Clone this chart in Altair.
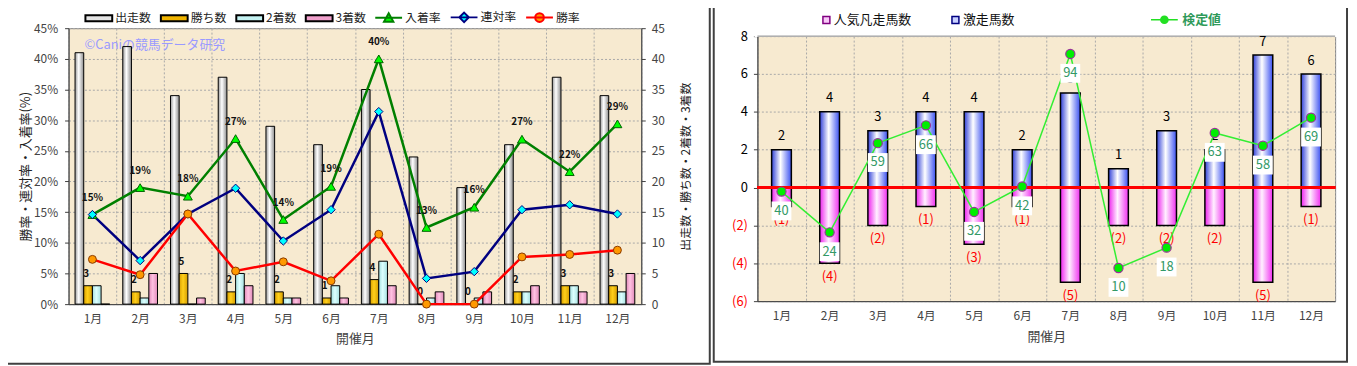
import altair as alt
import pandas as pd

FONT = "Noto Sans CJK JP"

months = ["1月", "2月", "3月", "4月", "5月", "6月", "7月", "8月", "9月", "10月", "11月", "12月"]

# ---------------- left chart data ----------------
bar_series = ["出走数", "勝ち数", "2着数", "3着数"]
runners = [41, 42, 34, 37, 29, 26, 35, 24, 19, 26, 37, 34]
wins = [3, 2, 5, 2, 2, 1, 4, 0, 0, 2, 3, 3]
seconds = [3, 1, 0, 5, 1, 3, 7, 1, 1, 2, 3, 2]
thirds = [0, 5, 1, 3, 1, 1, 3, 2, 2, 3, 2, 5]

rate_series = ["入着率", "連対率", "勝率"]
place_rate = [14.6, 19.0, 17.6, 27.0, 13.8, 19.2, 40.0, 12.5, 15.8, 26.9, 21.6, 29.4]
rentai_rate = [14.6, 7.1, 14.7, 18.9, 10.3, 15.4, 31.4, 4.2, 5.3, 15.4, 16.2, 14.7]
win_rate = [7.3, 4.8, 14.7, 5.4, 6.9, 3.8, 11.4, 0.0, 0.0, 7.7, 8.1, 8.8]
place_labels = ["15%", "19%", "18%", "27%", "14%", "19%", "40%", "13%", "16%", "27%", "22%", "29%"]

# ---------------- right chart data ----------------
right_series = ["人気凡走馬数", "激走馬数"]
upset = [2, 4, 3, 4, 4, 2, 5, 1, 3, 2, 7, 6]
flop = [1, 4, 2, 1, 3, 1, 5, 2, 2, 2, 5, 1]
test_name = ["検定値"]
test_val = [40, 24, 59, 66, 32, 42, 94, 10, 18, 63, 58, 69]

# axis ranges
left_max = 45
r_min, r_max = -6, 8
t_min, t_max = -3, 101

# ---------------- tables ----------------
bars_df = pd.DataFrame({
    "month": months * 4,
    "series": [s for s in bar_series for _ in months],
    "value": runners + wins + seconds + thirds,
})
rates_df = pd.DataFrame({
    "month": months * 3,
    "series": [s for s in rate_series for _ in months],
    "rate": place_rate + rentai_rate + win_rate,
    "lab": place_labels * 3,
})
right_df = pd.DataFrame({"month": months, "upset": upset, "flop": flop, "test": test_val})
one = pd.DataFrame({"a": [0]})


def hgrad(c1, mid, c2, pos=0.45):
    return alt.Gradient(
        gradient="linear", x1=0, x2=1, y1=0, y2=0,
        stops=[alt.GradientStop(color=c1, offset=0),
               alt.GradientStop(color=mid, offset=pos),
               alt.GradientStop(color=c2, offset=1)],
    )


GRID = "#a8a8a8"
AX = "#404040"
LAB = "#444444"
BG = "#f7ead0"

# ================= LEFT =================
LW, LH = 577, 278
x_left = alt.X(
    "month:N",
    scale=alt.Scale(domain=months, paddingInner=0, paddingOuter=0),
    axis=alt.Axis(labelAngle=0, labelFont=FONT, labelFontSize=12, labelColor=LAB,
                  labelPadding=10, ticks=False, tickSize=0, tickBand="extent",
                  grid=True, gridColor=GRID, gridDash=[2, 2], domainColor=AX,
                  title="開催月", titleFont=FONT, titleFontSize=13, titleFontWeight="normal",
                  titleColor=LAB, titlePadding=8),
)
xo = alt.XOffset("series:N", scale=alt.Scale(domain=bar_series, paddingInner=0, paddingOuter=0.747))

y_cnt = alt.Y(
    "value:Q",
    scale=alt.Scale(domain=[0, left_max], nice=False),
    axis=alt.Axis(orient="right", values=list(range(0, 50, 5)), grid=False, tickSize=4,
                  tickColor=AX, labelPadding=6, labelFont=FONT, labelFontSize=12,
                  labelColor=LAB, domainColor=AX,
                  title="出走数・勝ち数・2着数・3着数", titleAngle=270, titleFont=FONT,
                  titleFontSize=12, titleFontWeight="normal", titleColor="#222222",
                  titlePadding=28),
)
y_rate = alt.Y(
    "rate:Q",
    scale=alt.Scale(domain=[0, left_max], nice=False),
    axis=alt.Axis(orient="left", values=list(range(0, 50, 5)), grid=True, gridColor=GRID,
                  gridDash=[2, 2], tickSize=4, tickColor=AX, labelPadding=7,
                  labelExpr="datum.value + '%'", labelFont=FONT, labelFontSize=12,
                  labelColor=LAB, domainColor=AX,
                  title="勝率・連対率・入着率(%)", titleFont=FONT, titleFontSize=13,
                  titleFontWeight="normal", titleColor="#222222", titlePadding=1),
)

frame_l = alt.Chart(one).mark_rect(fill="white", fillOpacity=0, stroke="#404040", strokeWidth=2).encode(
    x=alt.value(-67), x2=alt.value(646), y=alt.value(-25), y2=alt.value(338))

leg_names = bar_series + rate_series
leg_fill = ["#e4e4e4", "#f0b400", "#c4f2f2", "#f0a0cc", "#00ff00", "#00ffff", "#ff9900"]
leg_stroke = ["#000000", "#000000", "#000000", "#000000", "#008000", "#000080", "#ff0000"]
bar_sym = "M-1,-0.75H5.75V0.75H-1Z"
leg_shapes = [bar_sym] * 4 + [
    "M-1,0H5.75M2.375,-1.15L3.55,0.95L1.2,0.95Z",
    "M-1,0H5.75M2.375,-1.2L3.575,0L2.375,1.2L1.175,0Z",
    "M-1,0H5.75M3.475,0A1.1,1.1,0,1,1,1.275,0A1.1,1.1,0,1,1,3.475,0Z",
]
leg_l = alt.Legend(orient="none", legendX=15, legendY=-17, direction="horizontal", title=None,
                   labelFont=FONT, labelFontSize=12, labelColor="#222222", labelFontWeight="normal",
                   symbolSize=64, symbolStrokeWidth=2, labelOffset=20, columnPadding=5, padding=0)
legend_left = alt.Chart(pd.DataFrame({"s": leg_names})).mark_point(
    clip=True, filled=True, strokeWidth=2, opacity=1).encode(
    x=alt.value(-500), y=alt.value(-500),
    fill=alt.Fill("s:N", scale=alt.Scale(domain=leg_names, range=leg_fill), legend=leg_l),
    stroke=alt.Stroke("s:N", scale=alt.Scale(domain=leg_names, range=leg_stroke), legend=leg_l),
    shape=alt.Shape("s:N", scale=alt.Scale(domain=leg_names, range=leg_shapes), legend=leg_l),
)

watermark = alt.Chart(one).mark_text(
    text="©Caniの競馬データ研究", align="left", baseline="middle", font=FONT,
    fontSize=13, color="#9a9aff").encode(x=alt.value(16), y=alt.value(17))

bar_fills = [
    hgrad("#9a9a9a", "#ffffff", "#8c8c8c", 0.42),
    hgrad("#d9a000", "#ffcf1a", "#d49c00", 0.45),
    hgrad("#a6e0e0", "#dcffff", "#a6e0e0", 0.45),
    hgrad("#e08ab8", "#ffc2e2", "#e08ab8", 0.45),
]
bar_layers = [
    alt.Chart(bars_df).transform_filter(alt.datum.series == name).mark_bar(
        fill=f, stroke="#000000", strokeWidth=1).encode(x=x_left, xOffset=xo, y=y_cnt)
    for name, f in zip(bar_series, bar_fills)
]
wins_text = alt.Chart(bars_df).transform_filter(alt.datum.series == "勝ち数").mark_text(
    dy=-12, dx=-2, fontWeight="bold", fontSize=10, font=FONT, color="#111111").encode(
    x=x_left, xOffset=xo, y=y_cnt, text="value:Q")

line_specs = [
    ("入着率", "#008000", "#00ff00", "#006400", "triangle-up", 80),
    ("連対率", "#000080", "#00ffff", "#000080", "diamond", 70),
    ("勝率", "#ff0000", "#ff9900", "#8a3a00", "circle", 64),
]
rate_layers = []
for name, lc, mf, ms, shp, sz in line_specs:
    base = alt.Chart(rates_df).transform_filter(alt.datum.series == name)
    rate_layers.append(base.mark_line(color=lc, strokeWidth=2.5).encode(x=x_left, y=y_rate))
for name, lc, mf, ms, shp, sz in line_specs:
    base = alt.Chart(rates_df).transform_filter(alt.datum.series == name)
    rate_layers.append(base.mark_point(shape=shp, filled=True, fill=mf, stroke=ms,
                                       strokeWidth=1, size=sz, opacity=1).encode(x=x_left, y=y_rate))
place_text = alt.Chart(rates_df).transform_filter(alt.datum.series == "入着率").mark_text(
    dy=-17, fontSize=10, fontWeight="bold", font=FONT, color="#111111").encode(
    x=x_left, y=y_rate, text="lab:N")

left = alt.layer(
    alt.layer(frame_l, legend_left, watermark, *bar_layers, wins_text),
    alt.layer(*rate_layers, place_text),
).resolve_scale(y="independent").properties(width=LW, height=LH)

# ================= RIGHT =================
# The plot area of the right panel in the reference starts 8px lower than the left one;
# the concat aligns the two plot origins, so the right panel's area is 8px taller and the
# strip above the top tick is masked in white.
RW, RH_TRUE, RH = 582, 267, 275
ext = (RH - RH_TRUE) / RH_TRUE
r_top = r_max + (r_max - r_min) * ext
t_top = t_max + (t_max - t_min) * ext

x_right = alt.X(
    "month:N",
    scale=alt.Scale(domain=months, paddingInner=0, paddingOuter=0),
    axis=alt.Axis(labelAngle=0, labelFont=FONT, labelFontSize=12, labelColor=LAB,
                  labelPadding=9, ticks=False, tickSize=0, tickBand="extent",
                  grid=True, gridColor=GRID, gridDash=[2, 2], domainColor=AX,
                  title="開催月", titleFont=FONT, titleFontSize=13, titleFontWeight="normal",
                  titleColor=LAB, titlePadding=10),
)
r_axis = alt.Axis(values=list(range(r_min, r_max + 1, 2)),
                  labelExpr="datum.value < 0 ? '(' + (-datum.value) + ')' : datum.value",
                  labelColor={"condition": {"test": "datum.value < 0", "value": "#ff0000"},
                              "value": "#000000"},
                  labelFont=FONT, labelFontSize=13, tickSize=4, tickColor=AX, labelPadding=6,
                  grid=True, gridColor=GRID, gridDash=[2, 2], domainColor=AX, title=None)
r_scale = alt.Scale(domain=[r_min, r_top], nice=False)


def yR(field):
    return alt.Y(field, scale=r_scale, axis=r_axis)


frame_r = alt.Chart(one).mark_rect(fill="white", fillOpacity=0, stroke="#404040", strokeWidth=2).encode(
    x=alt.value(-44), x2=alt.value(594), y=alt.value(-25), y2=alt.value(336))

leg_r1 = alt.Legend(orient="none", legendX=63, legendY=-15, direction="horizontal", title=None,
                    labelFont=FONT, labelFontSize=13, labelColor="#111111", labelFontWeight="normal",
                    symbolSize=49, symbolType="square", symbolStrokeWidth=1.5, labelOffset=1,
                    columnPadding=37, padding=0)
legend_r1 = alt.Chart(pd.DataFrame({"s1": right_series})).mark_point(
    clip=True, filled=True, shape="square", strokeWidth=1.5, opacity=1).encode(
    x=alt.value(-500), y=alt.value(-500),
    fill=alt.Fill("s1:N", scale=alt.Scale(domain=right_series, range=["#f8c8f8", "#c8d0ff"]), legend=leg_r1),
    stroke=alt.Stroke("s1:N", scale=alt.Scale(domain=right_series, range=["#800080", "#000080"]), legend=leg_r1),
)
circ_sym = "M-1,-0.2H5.75V0.2H-1ZM3.475,0A1.1,1.1,0,1,1,1.275,0A1.1,1.1,0,1,1,3.475,0Z"
leg_r2 = alt.Legend(orient="none", legendX=394, legendY=-15, direction="horizontal", title=None,
                    labelFont=FONT, labelFontSize=13, labelColor="#2f9a5a", labelFontWeight="bold",
                    symbolSize=64, symbolType=circ_sym, symbolFillColor="#22e022",
                    symbolStrokeColor="#22cc22", symbolStrokeWidth=1, labelOffset=21, padding=0)
legend_r2 = alt.Chart(pd.DataFrame({"s2": test_name})).mark_point(
    clip=True, filled=True, fill="#22e022", stroke="#22cc22", strokeWidth=1, opacity=1).encode(
    x=alt.value(-500), y=alt.value(-500),
    shape=alt.Shape("s2:N", scale=alt.Scale(domain=test_name, range=[circ_sym]), legend=leg_r2),
)

rbase = alt.Chart(right_df).transform_calculate(
    neg="-datum.flop", flab="'(' + datum.flop + ')'", zero="0")
blue = rbase.mark_bar(fill=hgrad("#3040d8", "#ffffff", "#3a50f0", 0.45), stroke="#000000",
                      strokeWidth=1.5, width=alt.RelativeBandSize(0.41)).encode(x=x_right, y=yR("upset:Q"))
pink = rbase.mark_bar(fill=hgrad("#ee22ee", "#fff0ff", "#f030f0", 0.45), stroke="#000000",
                      strokeWidth=1.5, width=alt.RelativeBandSize(0.41)).encode(x=x_right, y=yR("neg:Q"))
blue_lab = rbase.mark_text(dy=-13.5, baseline="middle", font=FONT, fontSize=13, color="#000000").encode(
    x=x_right, y=yR("upset:Q"), text="upset:Q")
red_lab = rbase.mark_text(dy=14, baseline="middle", font=FONT, fontSize=13, color="#ff0000").encode(
    x=x_right, y=yR("neg:Q"), text="flab:N")
zero_rule = rbase.mark_rule(color="#ff0000", strokeWidth=3).encode(y=yR("zero:Q"))

# white mask above the top tick + top border of the plot area
edge_df = pd.DataFrame({"top": [r_top], "upper": [r_max]})
mask = alt.Chart(edge_df).mark_rect(fill="white", stroke="white", strokeWidth=2).encode(
    x=alt.value(-2), x2=alt.value(RW + 2), y=yR("top:Q"), y2=alt.Y2("upper:Q"))
top_border = alt.Chart(edge_df).mark_rule(color="#808080", strokeWidth=1).encode(y=yR("upper:Q"))

y_test = alt.Y("test:Q", scale=alt.Scale(domain=[t_min, t_top], nice=False, zero=False), axis=None)
box_sym = "M-1.05,-1L1.05,-1L1.05,1L-1.05,1Z"
gline = alt.Chart(right_df).mark_line(color="#33ee33", strokeWidth=1.5).encode(x=x_right, y=y_test)
gpts = alt.Chart(right_df).mark_point(filled=True, fill="#00ee00", stroke="#993399", strokeWidth=1.2,
                                     size=85, opacity=1).encode(x=x_right, y=y_test)
gbox = alt.Chart(right_df).mark_point(shape=box_sym, filled=True, fill="#ffffff", strokeWidth=0,
                                     size=361, opacity=1, yOffset=19.5).encode(x=x_right, y=y_test)
gtext = alt.Chart(right_df).mark_text(dy=19.5, baseline="middle", font=FONT, fontSize=13,
                                     color="#339966").encode(x=x_right, y=y_test, text="test:Q")

right = alt.layer(
    alt.layer(frame_r, mask, top_border, legend_r1, legend_r2, blue, pink, blue_lab, red_lab, zero_rule),
    alt.layer(gline, gpts, gbox, gtext),
).resolve_scale(y="independent").properties(width=RW, height=RH)

chart = alt.hconcat(left, right, spacing=0).resolve_scale(
    fill="independent", stroke="independent", shape="independent"
).resolve_legend(
    fill="independent", stroke="independent", shape="independent"
).properties(
    padding={"left": -8, "top": -8, "right": 0, "bottom": 0}
).configure(font=FONT, background="white").configure_view(fill=BG, stroke="#808080", strokeWidth=1)

chart.save("out.html", embed_options={"renderer": "svg", "actions": False})
